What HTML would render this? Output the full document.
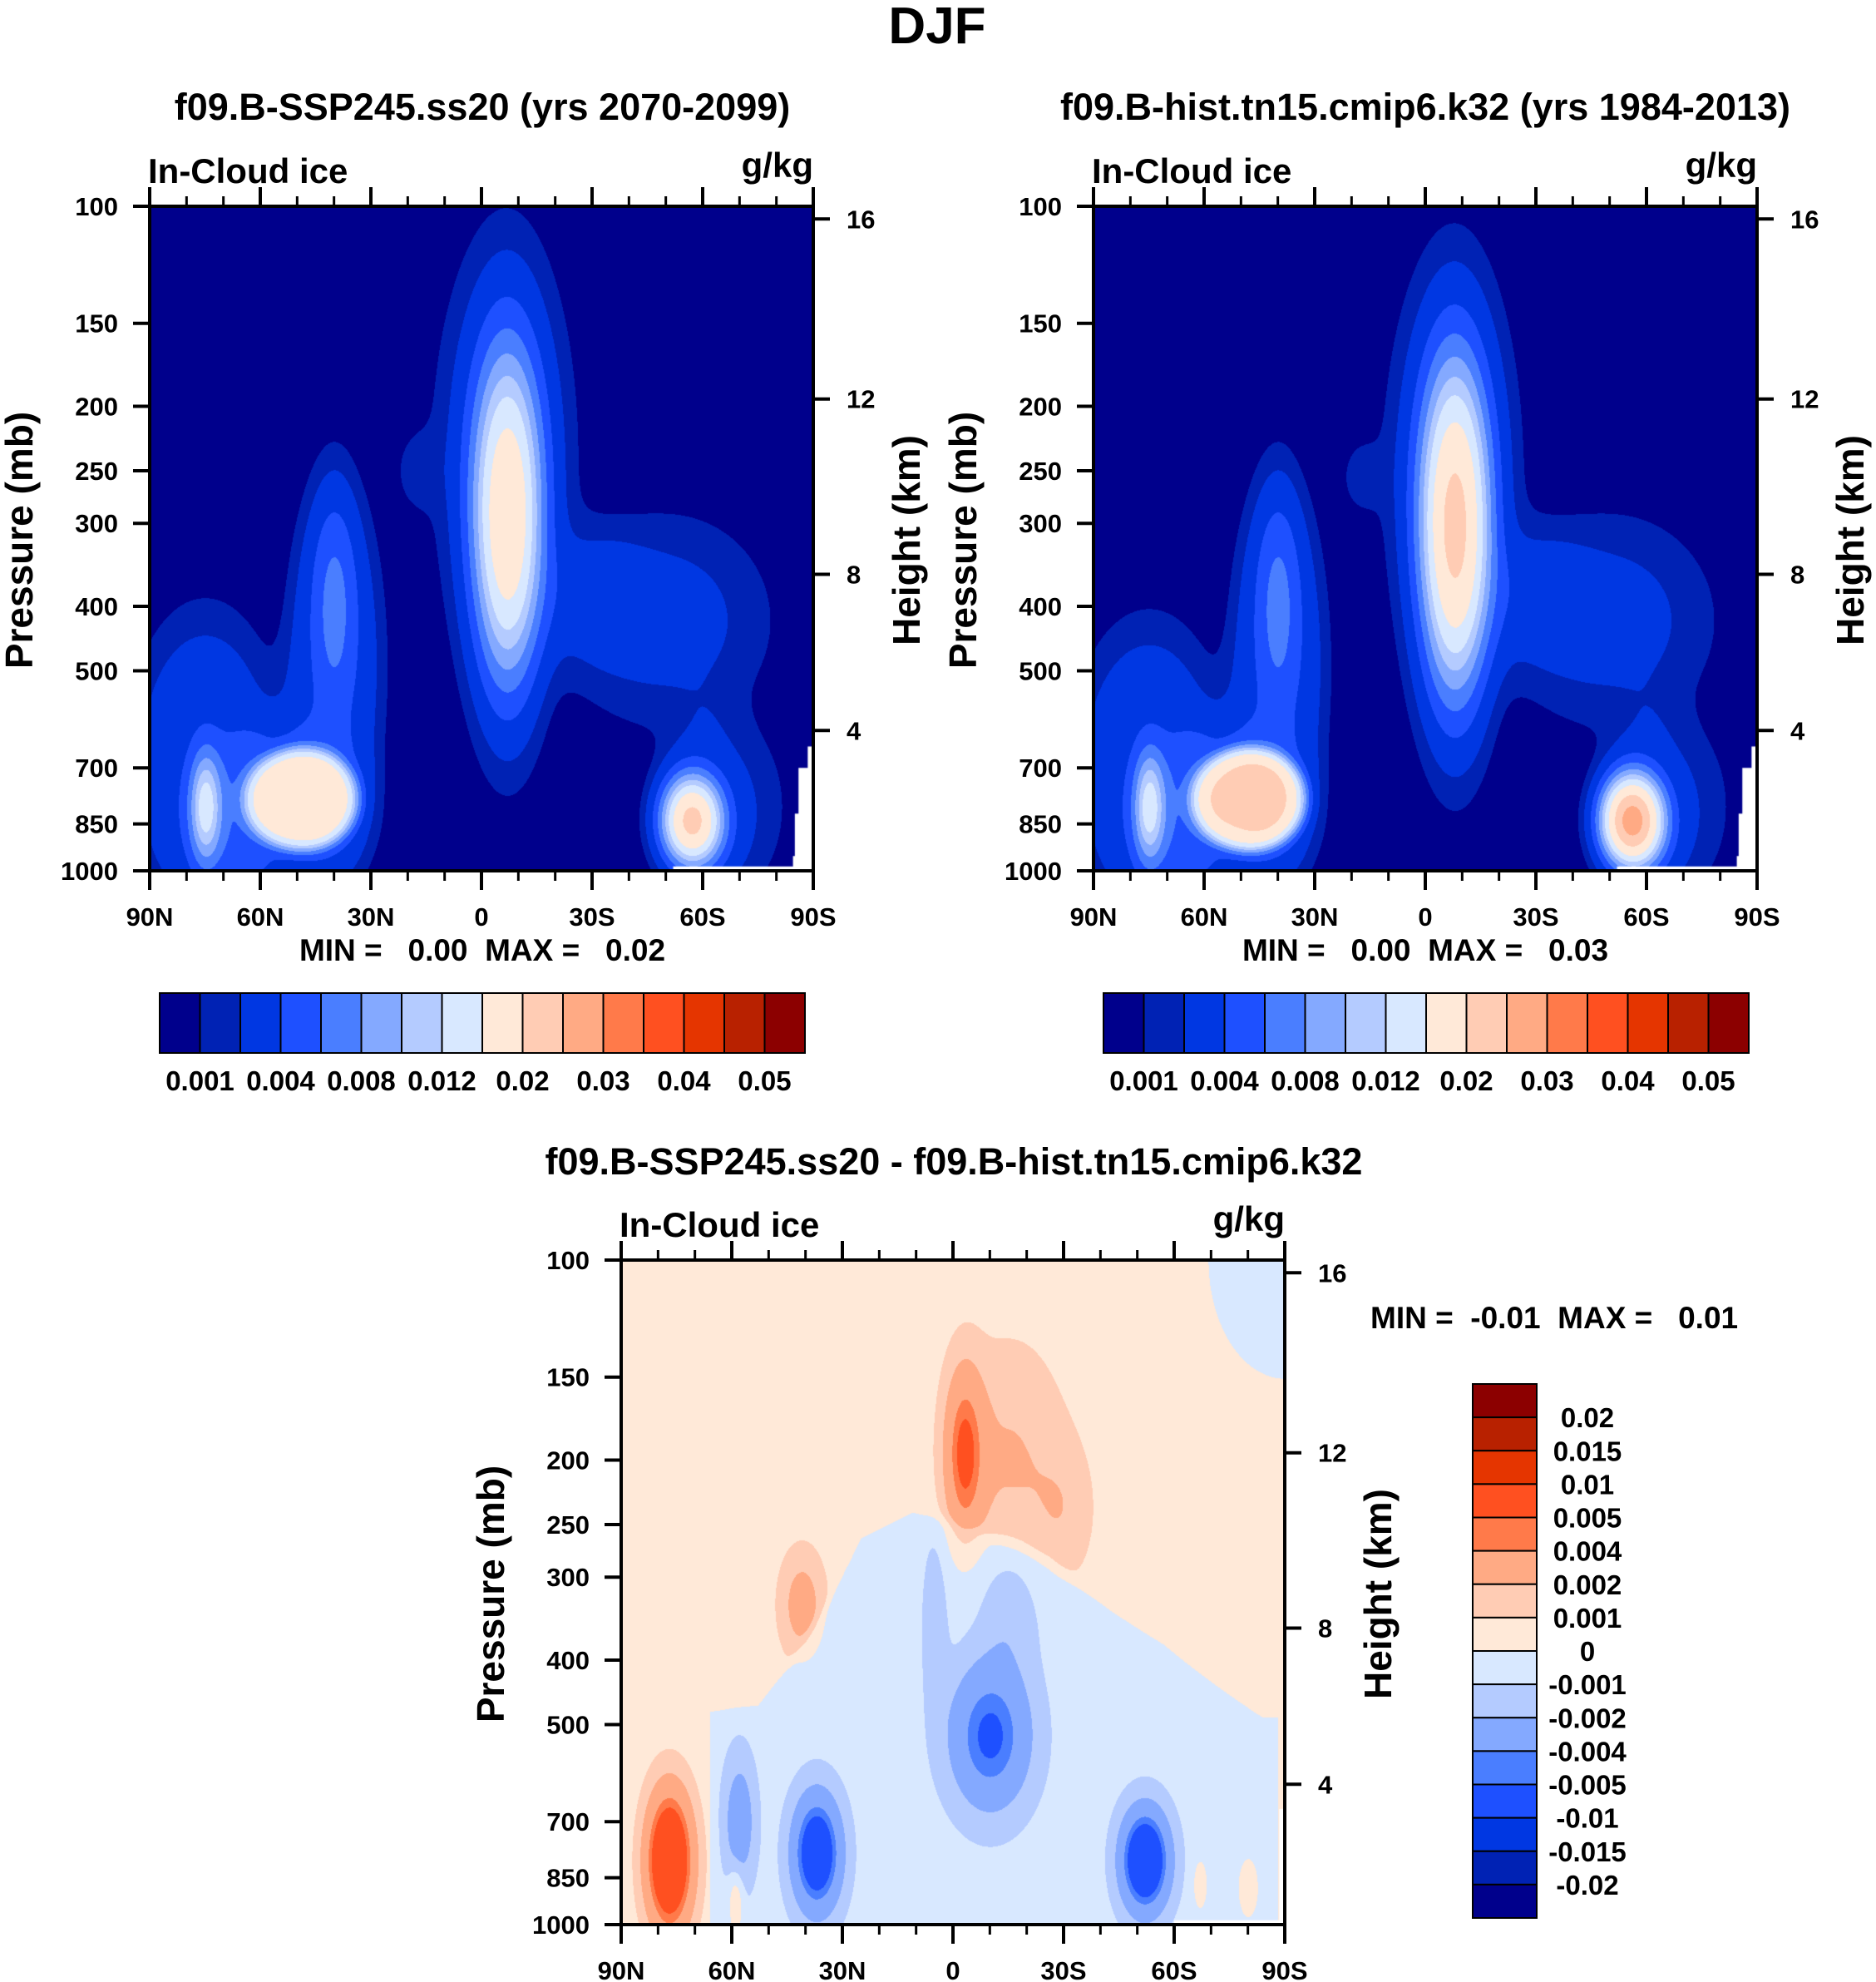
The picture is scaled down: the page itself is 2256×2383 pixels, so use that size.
<!DOCTYPE html>
<html><head><meta charset="utf-8"><style>
html,body{margin:0;padding:0;background:#fff;}
#wrap{position:relative;width:2256px;height:2383px;overflow:hidden;font-family:"Liberation Sans",sans-serif;}
canvas{position:absolute;}
svg{position:absolute;left:0;top:0;}
text{font-family:"Liberation Sans",sans-serif;font-weight:bold;fill:#000;white-space:pre;}
</style></head><body>
<div id="wrap">
<canvas id="c1" width="798" height="799" style="left:180px;top:248px"></canvas>
<canvas id="c2" width="798" height="799" style="left:1315px;top:248px"></canvas>
<canvas id="c3" width="798" height="799" style="left:747px;top:1515px"></canvas>
<svg id="s" width="2256" height="2383"></svg>
</div>
<script>
// ---- data ----
const colors = ["#00008c","#0022b4","#0037e2","#1e50ff","#4a7eff","#84a9ff","#b4cbff","#d8e8ff","#ffe9d8","#ffccb4","#ffaa84","#ff7a4a","#ff5020","#e53500","#b82100","#8c0000"];
const absLevels = [0.001,0.002,0.004,0.006,0.008,0.01,0.012,0.015,0.02,0.025,0.03,0.035,0.04,0.045,0.05];
const absLabels = ["0.001","0.004","0.008","0.012","0.02","0.03","0.04","0.05"];
const diffLevels = [-0.02,-0.015,-0.01,-0.005,-0.004,-0.002,-0.001,0,0.001,0.002,0.004,0.005,0.01,0.015,0.02];
const diffLabels = ["0.02","0.015","0.01","0.005","0.004","0.002","0.001","0","-0.001","-0.002","-0.004","-0.005","-0.01","-0.015","-0.02"];
const latTicks = [90,60,30,0,-30,-60,-90];
const latTickLabels = ["90N","60N","30N","0","30S","60S","90S"];
const presTicks = [100,150,200,250,300,400,500,700,850,1000];
const heightKm = [16,12,8,4];
const heightPres = [104.5,195,358,615];
// blobs: [lat, pressure(mb), amplitude, lat-width(deg), logp-width, power]
const futureBlobs = [
 [-7,300,0.0165,9,0.24,1],
 [-6,230,0.0035,17,0.28,1],
 [40,500,0.003,14,0.3,2],
 [75,700,0.003,22,0.25,2],
 [55,820,0.003,25,0.14,2],
 [40,400,0.004,6,0.17,1],
 [49,780,0.0145,15,0.076,3],
 [75,800,0.009,4,0.08,1],
 [18,250,0.0012,6,0.06,1],
 [-50,420,0.0022,30,0.17,2],
 [-65,800,0.002,18,0.15,2],
 [-30,380,0.0015,12,0.09,1],
 [-57,840,0.02,8,0.065,1]
];
const histBlobs = [
 [-8,310,0.019,9,0.24,1],
 [-7,245,0.0035,16,0.27,1],
 [40,500,0.003,14,0.3,2],
 [75,710,0.003,22,0.24,2],
 [55,820,0.003,25,0.14,2],
 [40,400,0.004,6,0.17,1],
 [48,780,0.0165,15,0.076,3],
 [75,800,0.009,4,0.08,1],
 [18,255,0.0012,6,0.06,1],
 [-50,420,0.0022,30,0.17,2],
 [-65,800,0.002,18,0.15,2],
 [-30,380,0.0015,12,0.09,1],
 [-56,840,0.026,8,0.065,1]
];
const diffBase = [0.0005];
const layerAmp = [-0.0012];
const layerLat = [66,53,39,25,11,-4,-12,-26,-43,-57,-71,-84,-88];
const layerPres = [480,470,363,263,240,250,263,282,339,380,437,490,490];
const diffBlobs = [
 [-10,520,-0.0048,10,0.1,1],
 [-15,330,-0.0012,8,0.1,1],
 [5,350,-0.0012,3,0.12,1],
 [37,780,-0.007,6,0.08,1],
 [58,700,-0.0025,4,0.09,1],
 [-52,800,-0.008,6,0.07,1],
 [77,800,0.0085,6,0.1,1],
 [-3,195,0.0045,5,0.12,1],
 [-15,200,0.0016,15,0.17,1],
 [-30,240,0.001,8,0.1,1],
 [41,330,0.0022,6,0.08,1],
 [-90,100,-0.0012,21,0.18,6],
 [59,920,0.0018,2,0.05,1],
 [-67,870,0.0015,2,0.04,1],
 [-80,880,0.0015,3,0.05,1]
];
const topMask = [[-88.5,650],[-88.5,700],[-86,700],[-86,820],[-85,820],[-85,950],[-84.5,950],[-84.5,985],[-52,985],[-52,1000],[-90,1000],[-90,650]];
const diffMask = [[-88.5,670],[-88.5,985],[-60,985],[-60,1000],[-90,1000],[-90,670]];

const W=798,H=799;
function xOf(lat){return (90-lat)/180*W;}
function yOf(p){return Math.log10(p/100)*H;}
function layerTop(lat){
  for(let k=0;k<layerLat.length-1;k++){
    if(lat<=layerLat[k] && lat>=layerLat[k+1]){
      const t=(lat-layerLat[k])/(layerLat[k+1]-layerLat[k]);
      return Math.log10((layerPres[k]+t*(layerPres[k+1]-layerPres[k]))/100);
    }
  }
  return null;
}

function drawField(id, blobs, base, levels, mask, useLayer){
  const cv=document.getElementById(id), ctx=cv.getContext('2d');
  const img=ctx.createImageData(W,H);
  const rgb=colors.map(c=>[parseInt(c.substr(1,2),16),parseInt(c.substr(3,2),16),parseInt(c.substr(5,2),16)]);
  for(let i=0;i<W;i++){
    const lat=90-i/W*180;
    const vb=useLayer?layerTop(lat):null;
    for(let j=0;j<H;j++){
      const v=j/H;
      let f=base;
      if(vb!==null) f+=layerAmp[0]/(1+Math.exp(-(v-vb)/0.006));
      for(const b of blobs){
        const du=(lat-b[0])/b[3], dv=(v-Math.log10(b[1]/100))/b[4];
        const d2=du*du+dv*dv;
        if(d2<40) f+=b[2]*Math.exp(-Math.pow(d2,b[5]));
      }
      let k=0; while(k<levels.length && f>=levels[k]) k++;
      const o=(j*W+i)*4, c=rgb[k];
      img.data[o]=c[0];img.data[o+1]=c[1];img.data[o+2]=c[2];img.data[o+3]=255;
    }
  }
  ctx.putImageData(img,0,0);
  ctx.fillStyle='#fff';ctx.beginPath();
  mask.forEach((m,n)=>{const x=xOf(m[0]),y=yOf(m[1]); n?ctx.lineTo(x,y):ctx.moveTo(x,y);});
  ctx.closePath();ctx.fill();
}
drawField('c1',futureBlobs,0,absLevels,topMask,false);
drawField('c2',histBlobs,0,absLevels,topMask,false);
drawField('c3',diffBlobs,diffBase[0],diffLevels,diffMask,true);

const NS='http://www.w3.org/2000/svg', svg=document.getElementById('s');
function el(tag,attrs,txt){const e=document.createElementNS(NS,tag);for(const k in attrs)e.setAttribute(k,attrs[k]);if(txt!==undefined)e.textContent=txt;svg.appendChild(e);return e;}

function axes(ox,oy,prefix){
  let e;
  e=el('rect',{x:ox,y:oy,width:W,height:H,fill:'none',stroke:'#000','stroke-width':4});
  
  
  for(let lat=90;lat>=-90;lat-=10){
    const x=ox+xOf(lat), major=(lat%30===0), L=major?23:12;
    el('line',{x1:x,y1:oy,x2:x,y2:oy-L,stroke:'#000','stroke-width':major?4:3});
    el('line',{x1:x,y1:oy+H,x2:x,y2:oy+H+L,stroke:'#000','stroke-width':major?4:3});
  }
  latTicks.forEach((lat,n)=>{
    e=el('text',{x:ox+xOf(lat),y:oy+H+66,'font-size':31,'text-anchor':'middle'},latTickLabels[n]);
    
    
  });
  presTicks.forEach(p=>{
    const y=oy+yOf(p);
    el('line',{x1:ox,y1:y,x2:ox-20,y2:y,stroke:'#000','stroke-width':4});
    e=el('text',{x:ox-38,y:y+11,'font-size':31,'text-anchor':'end'},String(p));
    
    
  });
  heightPres.forEach((p,n)=>{
    const y=oy+yOf(p);
    el('line',{x1:ox+W,y1:y,x2:ox+W+20,y2:y,stroke:'#000','stroke-width':4});
    e=el('text',{x:ox+W+40,y:y+11,'font-size':31},String(heightKm[n]));
    
    
  });
  e=el('text',{x:ox-2,y:oy-28,'font-size':42},'In-Cloud ice');
  
  
  e=el('text',{x:ox+W,y:oy-35,'font-size':42,'text-anchor':'end'},'g/kg');
  
  
  e=el('text',{x:0,y:0,'font-size':46,'text-anchor':'middle',transform:`translate(${ox-141},${oy+H/2+2}) rotate(-90)`},'Pressure (mb)');
  
  
  e=el('text',{x:0,y:0,'font-size':46,'text-anchor':'middle',transform:`translate(${ox+W+128},${oy+H/2+2}) rotate(-90)`},'Height (km)');
  
  
}
axes(180,248,'future');
axes(1315,248,'hist');
axes(747,1515,'diff');

function hbar(x0,y0,w,h,prefix){
  const bw=w/16; let e;
  colors.forEach((c,n)=>{
    e=el('rect',{x:x0+n*bw,y:y0,width:bw,height:h,fill:c,stroke:'#000','stroke-width':2});
    
    
  });
  absLabels.forEach((t,n)=>{
    e=el('text',{x:x0+(2*n+1)*bw,y:y0+h+45,'font-size':33,'text-anchor':'middle'},t);
    
    
  });
}
hbar(192,1194,776,72,'future');
hbar(1327,1194,776,72,'hist');
(function(){
  const x0=1771,y0=1664,w=77,h=642,bh=h/16; let e;
  for(let n=0;n<16;n++){
    e=el('rect',{x:x0,y:y0+n*bh,width:w,height:bh,fill:colors[15-n],stroke:'#000','stroke-width':2});
    
    
  }
  diffLabels.forEach((t,n)=>{
    e=el('text',{x:1909,y:y0+(n+1)*bh+12,'font-size':33,'text-anchor':'middle'},t);
    
    
  });
})();

let t;
t=el('text',{x:1127,y:52,'font-size':62,'text-anchor':'middle'},'DJF');


t=el('text',{x:580,y:144,'font-size':45,'text-anchor':'middle'},'f09.B-SSP245.ss20 (yrs 2070-2099)');


t=el('text',{x:1714,y:144,'font-size':45,'text-anchor':'middle'},'f09.B-hist.tn15.cmip6.k32 (yrs 1984-2013)');


t=el('text',{x:1147,y:1412,'font-size':45,'text-anchor':'middle'},'f09.B-SSP245.ss20 - f09.B-hist.tn15.cmip6.k32');


t=el('text',{x:580,y:1155,'font-size':37,'text-anchor':'middle'},'MIN =   0.00  MAX =   0.02');


t=el('text',{x:1714,y:1155,'font-size':37,'text-anchor':'middle'},'MIN =   0.00  MAX =   0.03');


t=el('text',{x:1648,y:1597,'font-size':37},'MIN =  -0.01  MAX =   0.01');


</script>
</body></html>
